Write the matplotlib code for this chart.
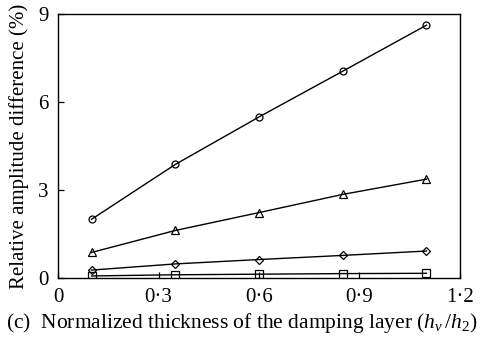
import matplotlib
matplotlib.use("Agg")
import matplotlib.pyplot as plt

plt.rcParams["font.family"] = ["Liberation Serif", "DejaVu Serif"]
plt.rcParams["mathtext.fontset"] = "custom"
plt.rcParams["mathtext.rm"] = "Liberation Serif"
plt.rcParams["mathtext.it"] = "Liberation Serif:italic"

# normalized damping-layer thickness h_v/h_2
thickness = [0.1, 0.35, 0.6, 0.85, 1.1]

# relative amplitude difference (%) for each case
series_circle = [2.0, 3.87, 5.49, 7.05, 8.62]
series_triangle = [0.87, 1.62, 2.23, 2.85, 3.37]
series_diamond = [0.27, 0.48, 0.63, 0.77, 0.92]
series_square = [0.07, 0.11, 0.13, 0.15, 0.16]

xticks = [0, 0.3, 0.6, 0.9, 1.2]
xtick_labels = ["0", "0·3", "0·6", "0·9", "1·2"]
yticks = [0, 3, 6, 9]
ytick_labels = ["0", "3", "6", "9"]

fig = plt.figure(figsize=(4.88, 3.44), dpi=100)
ax = fig.add_axes([58 / 488, 1 - 278 / 344, (460 - 58) / 488, (278 - 14) / 344])

for ys, m, ms in [(series_circle, "o", 5),
                  (series_triangle, "^", 5.5),
                  (series_diamond, "D", 4.2),
                  (series_square, "s", 5.5)]:
    ax.plot(thickness, ys, color="black", lw=1.0, marker=m, ms=ms,
            mfc="none", mec="black", mew=0.9)

ax.set_xlim(0, 1.2)
ax.set_ylim(0, 9)
ax.set_xticks(xticks)
ax.set_xticklabels(xtick_labels)
ax.set_yticks(yticks)
ax.set_yticklabels(ytick_labels)
ax.tick_params(direction="in", length=4, width=0.9, labelsize=15, pad=7)
for s in ax.spines.values():
    s.set_linewidth(1.0)

ax.set_ylabel("Relative amplitude difference (%)", fontsize=15.0)
ax.yaxis.set_label_coords(-29 / 402, 0.5)
ax.set_xlabel("(c)  Normalized thickness of the damping layer ($h_v\\,/h_2$)",
              fontsize=15.5)
ax.xaxis.set_label_coords((241.5 - 58) / 402, -(323 - 278) / 264)
ax.xaxis.label.set_va("center")

fig.savefig("out.png", dpi=100)
